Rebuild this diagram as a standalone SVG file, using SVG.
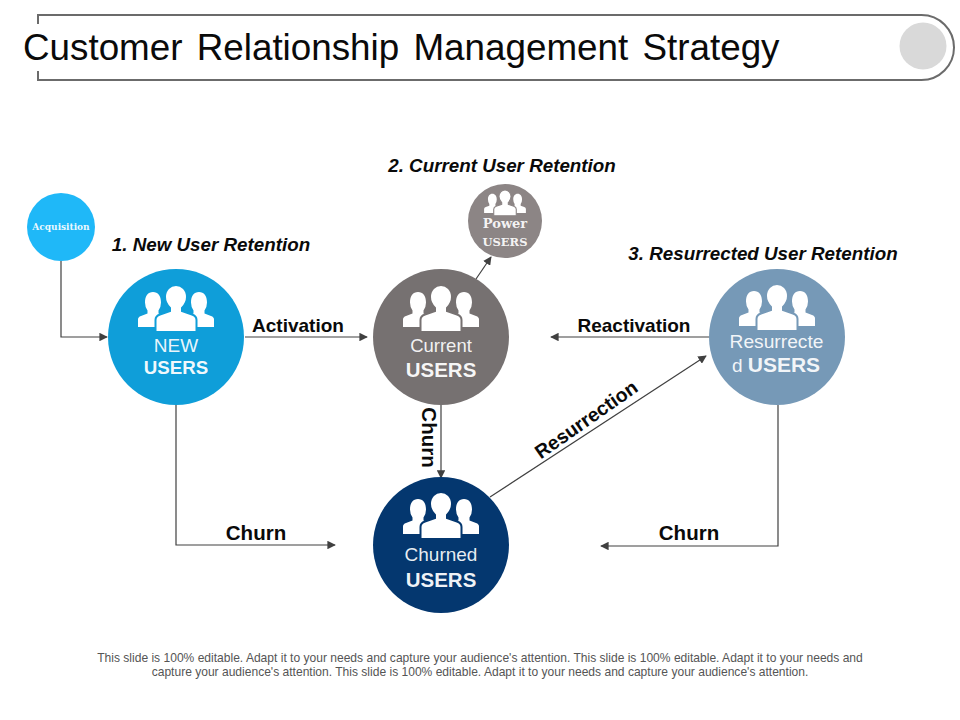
<svg xmlns="http://www.w3.org/2000/svg" width="960" height="720" viewBox="0 0 960 720">
<style>
text{font-family:"Liberation Sans",Arial,sans-serif}
.h{font-size:18.800px;font-weight:700;font-style:italic;fill:#0a0a0a;text-anchor:middle}
.l{font-size:19px;font-weight:700;fill:#0a0a0a;text-anchor:middle}
.k{font-size:20.500px}
.n{font-size:18.500px;fill:#fff;fill-opacity:.92;text-anchor:middle}
.b{font-size:20.500px;font-weight:700;fill:#fff;fill-opacity:.95;text-anchor:middle}
.s{font-weight:700;fill:#fff;fill-opacity:.92;text-anchor:middle;font-family:"DejaVu Serif","Liberation Serif",serif}
.f{font-size:12.060px;fill:#555;text-anchor:middle}
.c{fill:none;stroke:#404040;stroke-width:1.2}
.side{fill:#fff}
.mid{fill:#fff;stroke:currentColor;stroke-width:2}
</style>
<defs>
<marker id="a" viewBox="0 0 10 10" refX="9" refY="5" markerWidth="8.500" markerHeight="8.500" markerUnits="userSpaceOnUse" orient="auto"><path d="M0 0L10 5L0 10Z" fill="#404040"/></marker>
<g id="icon">
<path class="side" d="M-38 41V33.500Q-38 31 -35 30L-28.500 27.500V24.500Q-31 21 -31 16.500C-31 10 -28 6 -23 6C-18 6 -15 10 -15 16.500Q-15 21 -17.500 24.500V27.500L-10 31V41Z"/>
<path class="side" d="M38 41V33.500Q38 31 35 30L28.500 27.500V24.500Q31 21 31 16.500C31 10 28 6 23 6C18 6 15 10 15 16.500Q15 21 17.500 24.500V27.500L10 31V41Z"/>
<path class="mid" d="M-20.500 46V34Q-20.500 30 -16 28.500L-6 25V22Q-11 17 -11 11C-11 4 -6 -1 0 -1C6 -1 11 4 11 11Q11 17 6 22V25L16 28.500Q20.500 30 20.500 34V46Z"/>
</g>
</defs>
<rect width="960" height="720" fill="#fff"/>
<g id="title-frame">
<path d="M38 24V15H921.500A32.500 32.500 0 0 1 921.500 80H38V71" fill="none" stroke="#6b6b6b" stroke-width="2"/>
<circle cx="923" cy="46" r="23.500" fill="#d9d9d9"/>
<text x="23" y="60" font-size="36.800" fill="#0a0a0a" word-spacing="4">Customer Relationship Management Strategy</text>
</g>
<g id="connectors">
<path class="c" d="M61 261V337H107" marker-end="url(#a)"/>
<path class="c" d="M245 337H367" marker-end="url(#a)"/>
<path class="c" d="M476 279L491 257" marker-end="url(#a)"/>
<path class="c" d="M709 337H551" marker-end="url(#a)"/>
<path class="c" d="M441 405V478" marker-end="url(#a)"/>
<path class="c" d="M490 497L706 356" marker-end="url(#a)"/>
<path class="c" d="M176 405V545H335" marker-end="url(#a)"/>
<path class="c" d="M778 405V546H601" marker-end="url(#a)"/>
</g>
<g id="connector-labels">
<text class="l" x="298" y="332">Activation</text>
<text class="l" x="634" y="332">Reactivation</text>
<text class="l k" x="256" y="540">Churn</text>
<text class="l k" x="689" y="540">Churn</text>
<text class="l k" transform="translate(422 437.500) rotate(90)">Churn</text>
<text class="l" transform="translate(590 425) rotate(-35)" style="font-size:19.500px">Resurrection</text>
</g>
<g id="headings">
<text class="h" x="211" y="251">1. New User Retention</text>
<text class="h" x="502" y="172">2. Current User Retention</text>
<text class="h" x="763" y="260">3. Resurrected User Retention</text>
</g>
<g id="acquisition">
<circle cx="61" cy="227" r="34" fill="#1fb8f8"/>
<text class="s" x="61" y="230" font-size="9">Acquisition</text>
</g>
<g id="new-users" color="#0f9ed9">
<circle cx="176" cy="337" r="68" fill="#0f9ed9"/>
<use href="#icon" x="176" y="286"/>
<text class="n" x="176" y="352" style="font-size:19px">NEW</text>
<text class="b" x="176" y="374" style="font-size:18.700px">USERS</text>
</g>
<g id="current-users" color="#767171">
<circle cx="441" cy="337" r="68" fill="#767171"/>
<use href="#icon" x="441" y="286"/>
<text class="n" x="441" y="352">Current</text>
<text class="b" x="441" y="377">USERS</text>
</g>
<g id="power-users" color="#8c8585">
<circle cx="505" cy="221" r="37" fill="#8c8585"/>
<use href="#icon" transform="translate(505 190.500) scale(.55)"/>
<text class="s" x="505" y="228" font-size="13">Power</text>
<text class="s" x="505" y="246" font-size="11.500">USERS</text>
</g>
<g id="resurrected-users" color="#7699b7">
<circle cx="777" cy="337" r="68" fill="#7699b7"/>
<use href="#icon" x="777" y="285"/>
<text class="n" x="776.500" y="348" style="font-size:19.200px">Resurrecte</text>
<text x="776" y="372" text-anchor="middle" fill="#fff" font-size="19" fill-opacity=".92">d <tspan font-weight="700" font-size="21">USERS</tspan></text>
</g>
<g id="churned-users" color="#04376f">
<circle cx="441" cy="545" r="68" fill="#04376f"/>
<use href="#icon" x="441" y="493"/>
<text class="n" x="441" y="561" style="font-size:19px">Churned</text>
<text class="b" x="441" y="587">USERS</text>
</g>
<g id="footer">
<text class="f" x="480" y="662">This slide is 100% editable. Adapt it to your needs and capture your audience's attention. This slide is 100% editable. Adapt it to your needs and</text>
<text class="f" x="480" y="676">capture your audience's attention. This slide is 100% editable. Adapt it to your needs and capture your audience's attention.</text>
</g>
</svg>
